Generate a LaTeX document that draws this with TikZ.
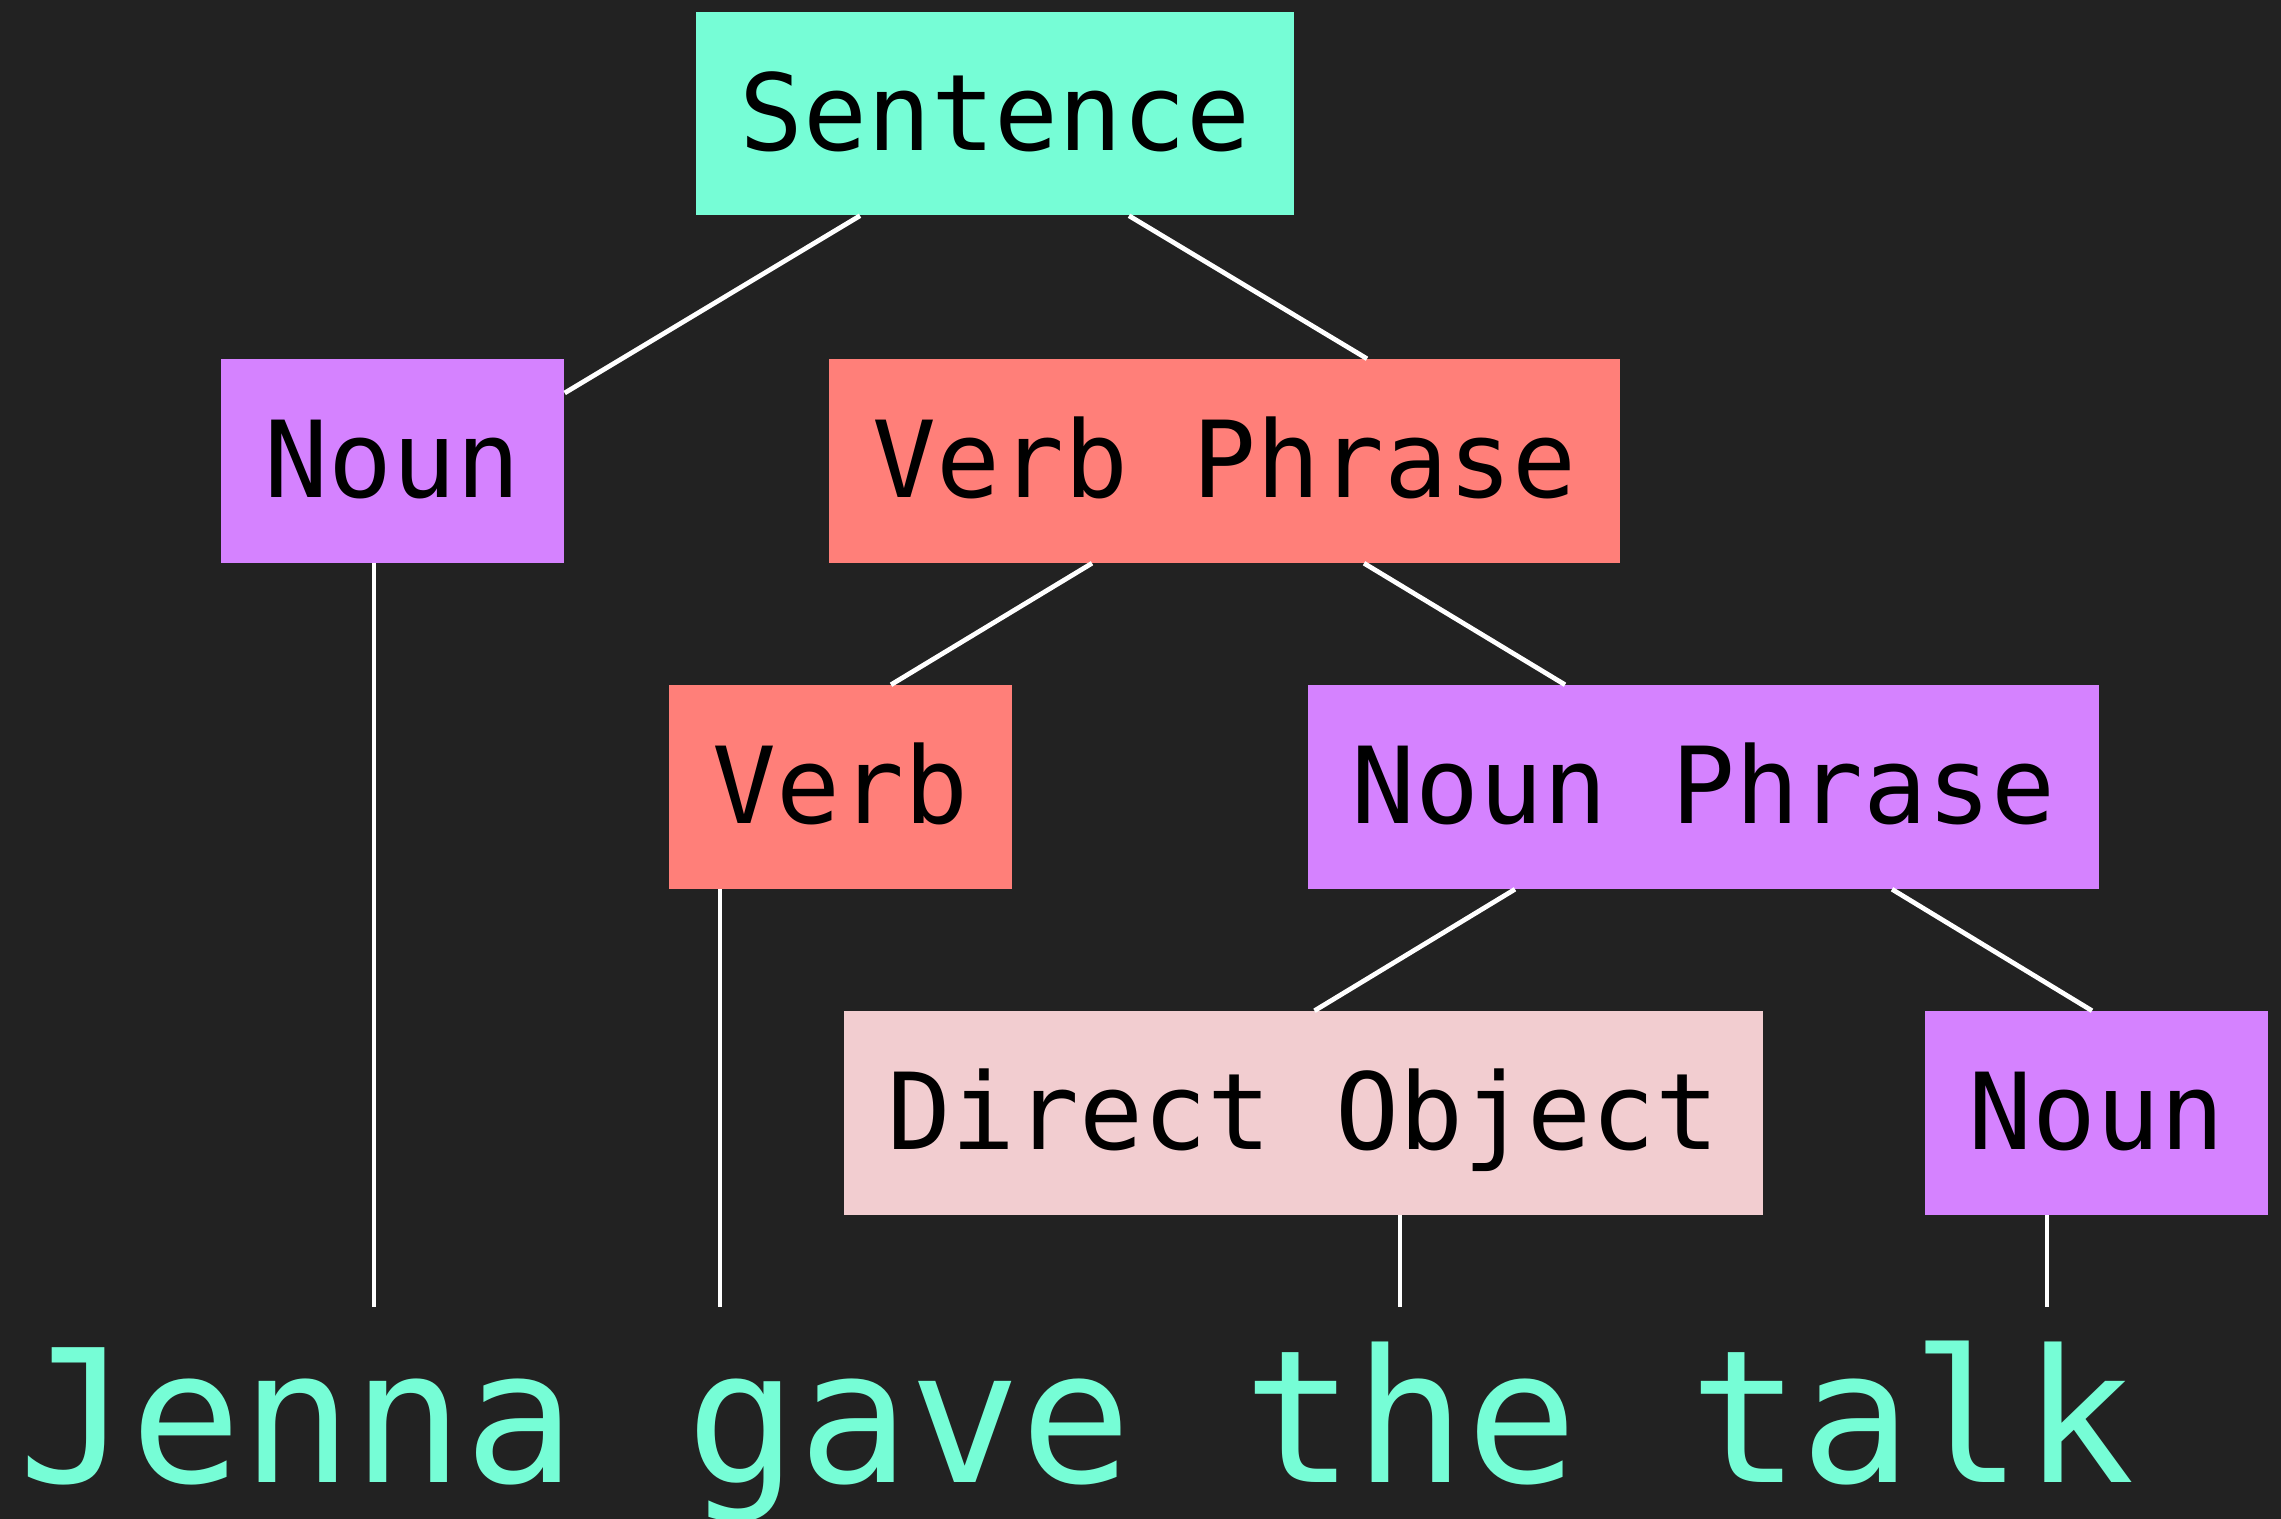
\documentclass[tikz,border=0pt]{standalone}
\usepackage{fontspec}
\setmonofont{DejaVu Sans Mono}
\usepackage{xcolor}
\usepackage{tikz}
\usetikzlibrary{positioning,calc}
\definecolor{bg}{HTML}{222222}
\definecolor{aqua}{HTML}{76FDD6}
\definecolor{lilac}{HTML}{D582FF}
\definecolor{salmon}{HTML}{FF7F79}
\definecolor{blush}{HTML}{F2CDD0}
\tikzset{
  tag/.style={rectangle, draw=none, minimum height=2.03cm, inner xsep=12.4pt, inner ysep=0pt,
    font=\ttfamily\fontsize{30.2}{36}\selectfont, text height=21pt, text depth=0pt, text=black},
  sent/.style={tag, fill=aqua},
  noun/.style={tag, fill=lilac},
  verb/.style={tag, fill=salmon},
  obj/.style ={tag, fill=blush},
  edge/.style={draw=white, line width=1.35pt},
  words/.style={font=\ttfamily\fontsize{52.6}{60}\selectfont, text=aqua, inner sep=0pt, anchor=base west},
}

\begin{document}
\begin{tikzpicture}[x=0.01cm, y=-0.01cm]
        \fill[bg] (0,0) rectangle (2281,1519);
        \useasboundingbox (0,0) rectangle (2281,1519);
        % word anchors under the tree
        \coordinate (jenna) at (374,1307);
        \coordinate (gave)  at (720,1307);
        \coordinate (the)   at (1400,1307);
        \coordinate (talk)  at (2047,1307);
        \node[sent] (S)   at (995,113.5)    {Sentence};
        \node[noun] (N)   at (392.5,461)    {Noun};
        \node[verb] (VP)  at (1224.5,461)   {Verb Phrase};
        \node[verb] (V)   at (840.5,787)    {Verb};
        \node[noun] (NP)  at (1703.5,787)   {Noun Phrase};
        \node[obj]  (DO)  at (1303.5,1113)  {Direct Object};
        \node[noun] (N2)  at (2096.5,1113)  {Noun};
        \draw[edge] ($(S.south)+(-135,0)$) -- ($(N.east)+(0,-68)$);
        \draw[edge] ($(S.south)+(134,0)$) -- ($(VP.north)+(142.5,0)$);
        \draw[edge] ($(VP.south)+(-132.5,0)$) -- ($(V.north)+(50.5,0)$);
        \draw[edge] ($(VP.south)+(139.5,0)$) -- ($(NP.north)+(-138.5,0)$);
        \draw[edge] ($(NP.south)+(-188.5,0)$) -- ($(DO.north)+(11,0)$);
        \draw[edge] ($(NP.south)+(188.5,0)$) -- ($(N2.north)+(-4.5,0)$);
        \draw[edge] (N.south -| jenna) -- (jenna);
        \draw[edge] (V.south -| gave) -- (gave);
        \draw[edge] (DO.south -| the) -- (the);
        \draw[edge] (N2.south -| talk) -- (talk);
        \node[words] (line) at (18,1482) {Jenna gave the talk};
      \end{tikzpicture}
\end{document}
